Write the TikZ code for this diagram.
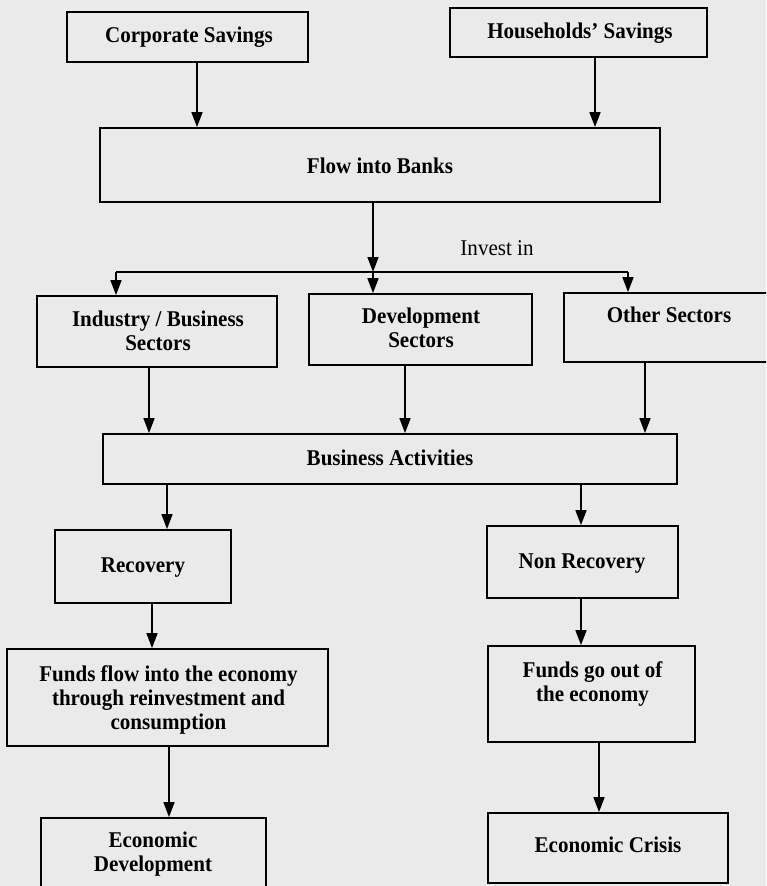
\documentclass[tikz,border=0pt]{standalone}
\usepackage{fontspec}
\setmainfont{Liberation Serif}
\usetikzlibrary{arrows.meta}
\definecolor{paper}{RGB}{234,234,234}
\tikzset{
  box/.style={draw=black, line width=1.8pt, rectangle, inner sep=0pt},
  lbl/.style={font=\fontsize{22.5}{24}\selectfont\bfseries, align=center, inner sep=0pt, xscale=0.935, transform shape},
  arr/.style={line width=1.6pt, -{Triangle[length=15pt,width=11pt]}},
  ln/.style={line width=1.6pt}
}
\begin{document}
\begin{tikzpicture}[x=1pt,y=-1pt]
\fill[paper] (0,0) rectangle (766,886);
\useasboundingbox (0,0) rectangle (766,886);
\begin{scope}
\clip (0,0) rectangle (766,886);
% boxes
\node[box, minimum width=241pt, minimum height=50pt] (cs) at (187.5,37) {};
\node[box, minimum width=257pt, minimum height=49pt] (hs) at (578.5,32.5) {};
\node[box, minimum width=560pt, minimum height=74pt] (fb) at (380,165) {};
\node[box, minimum width=240pt, minimum height=71pt] (ind) at (157,331.5) {};
\node[box, minimum width=223pt, minimum height=71pt] (dev) at (420.5,329.5) {};
\node[box, minimum width=211pt, minimum height=69pt] (oth) at (669.5,327.5) {};
\node[box, minimum width=574pt, minimum height=50pt] (ba) at (390,459) {};
\node[box, minimum width=176pt, minimum height=73pt] (rec) at (143,566.5) {};
\node[box, minimum width=191pt, minimum height=72pt] (nr) at (582.5,562) {};
\node[box, minimum width=321pt, minimum height=97pt] (ff) at (167.5,697.5) {};
\node[box, minimum width=207pt, minimum height=96pt] (fo) at (591.5,694) {};
\node[box, minimum width=225pt, minimum height=82pt] (ed) at (153.5,859) {};
\node[box, minimum width=240pt, minimum height=70pt] (ec) at (608,848) {};
% texts
\node[lbl] (cs-t) at (189,37) {Corporate Savings};
\node[lbl] (hs-t) at (580,33) {Households’ Savings};
\node[lbl] (fb-t) at (380,166) {Flow into Banks};
\node[lbl, font=\fontsize{22.5}{24}\selectfont] (inv) at (497,248) {Invest in};
\node[lbl] (ind-t) at (158,331) {Industry / Business\\Sectors};
\node[lbl] (dev-t) at (421,328) {Development\\Sectors};
\node[lbl] (oth-t) at (669,315) {Other Sectors};
\node[lbl] (ba-t) at (390,458) {Business Activities};
\node[lbl] (rec-t) at (143,568) {Recovery};
\node[lbl] (nr-t) at (582,564) {Non Recovery};
\node[lbl] (ff-t) at (168.5,700) {Funds flow into the economy\\through reinvestment and\\consumption};
\node[lbl] (fo-t) at (592.5,683.5) {Funds go out of\\the economy};
\node[lbl] (ed-t) at (153,854) {Economic\\Development};
\node[lbl] (ec-t) at (608,845) {Economic Crisis};
% junction
\coordinate (j) at (373,272);
\coordinate (jl) at (116,272);
\coordinate (jr) at (628,272);
% connectors
\draw[arr] ([xshift=9.5]cs.south) -- ([xshift=9.5]cs.south |- fb.north);
\draw[arr] ([xshift=16.5]hs.south) -- ([xshift=16.5]hs.south |- fb.north);
\draw[arr] ([xshift=-7]fb.south) -- (j);
\draw[ln] (jl) -- (jr);
\draw[arr] (jl) -- (jl |- ind.north);
\draw[arr] (j) -- (j |- dev.north);
\draw[arr] (jr) -- (jr |- oth.north);
\draw[arr] ([xshift=-8]ind.south) -- ([xshift=-8]ind.south |- ba.north);
\draw[arr] ([xshift=-15.5]dev.south) -- ([xshift=-15.5]dev.south |- ba.north);
\draw[arr] ([xshift=-24.5]oth.south) -- ([xshift=-24.5]oth.south |- ba.north);
\draw[arr] ([xshift=24]rec.north |- ba.south) -- ([xshift=24]rec.north);
\draw[arr] ([xshift=-1.5]nr.north |- ba.south) -- ([xshift=-1.5]nr.north);
\draw[arr] ([xshift=9]rec.south) -- ([xshift=9]rec.south |- ff.north);
\draw[arr] ([xshift=1.5]ff.south) -- ([xshift=1.5]ff.south |- ed.north);
\draw[arr] ([xshift=-1.5]nr.south) -- ([xshift=-1.5]nr.south |- fo.north);
\draw[arr] ([xshift=7.5]fo.south) -- ([xshift=7.5]fo.south |- ec.north);
\end{scope}
\end{tikzpicture}
\end{document}
